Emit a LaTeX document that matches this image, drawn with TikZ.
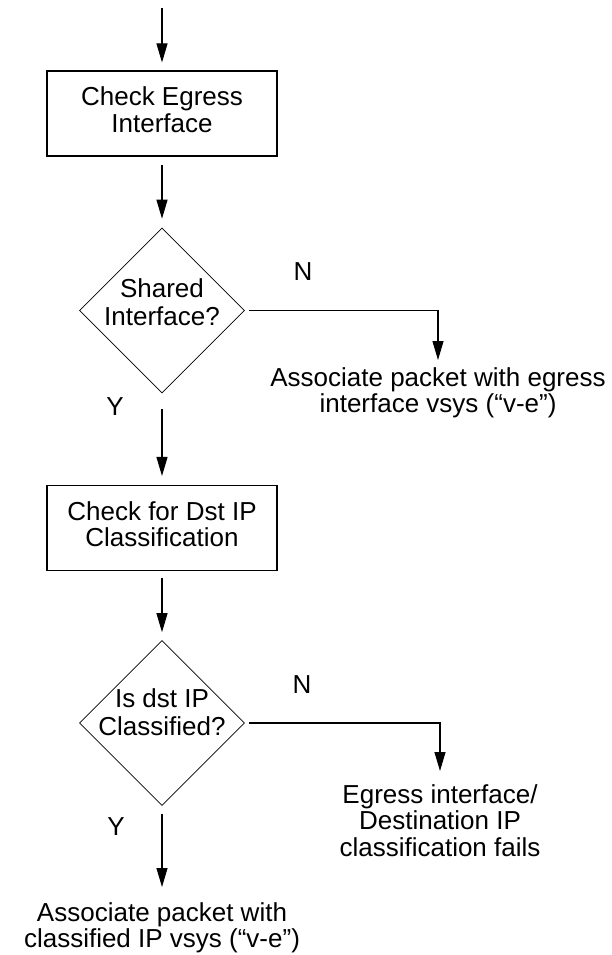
\documentclass[tikz,border=0pt]{standalone}
\usepackage{fontspec}
\setmainfont{Liberation Sans}
\usetikzlibrary{arrows.meta,shapes.geometric}
% two centred lines inside a shape, lifted by #1
\newcommand{\inshape}[2]{\raisebox{#1}{\begin{tabular}{@{}c@{}}#2\end{tabular}}}
% the same, taking no room, so that the diamond keeps its own size
\newcommand{\indiamond}[2]{\makebox[0pt]{\smash{\raisebox{#1}{\renewcommand{\arraystretch}{1.04}\begin{tabular}{@{}c@{}}#2\end{tabular}}}}}
\begin{document}
\begin{tikzpicture}[x=1pt,y=-1pt,
  every node/.style={font=\fontsize{26}{26.5}\selectfont},
  stepbox/.style={draw, line width=1.1pt, minimum width=230pt, minimum height=85pt, inner sep=0pt},
  decision/.style={diamond, draw, line width=0.6pt, minimum width=165pt, minimum height=165pt, inner sep=0pt},
  outcome/.style={anchor=north, inner sep=0pt, align=center},
  flow/.style={line width=1.1pt, -{Triangle[length=19pt,width=11pt]}},
  branch/.style={inner sep=0pt}]
\useasboundingbox (0,0) rectangle (611,955);

% process steps and decisions
\node[stepbox]  (b1) at (162,113.5) {\inshape{1.5pt}{Check Egress\\Interface}};
\node[decision] (d1) at (162,310.5) {\indiamond{-1.5pt}{Shared\\Interface?}};
\node[stepbox]  (b2) at (162,528)   {\inshape{4pt}{Check for Dst IP\\Classification}};
\node[decision] (d2) at (162,723)   {\indiamond{1pt}{Is dst IP\\Classified?}};

% outcomes
\node[outcome] (o1) at (438,367) {Associate packet with egress\\interface vsys (“v-e”)};
\node[outcome] (o2) at (440,784) {Egress interface/\\Destination IP\\classification fails};
\node[outcome] (o3) at (162,902) {Associate packet with\\classified IP vsys (“v-e”)};

% branch labels
\node[branch] (n1) at (303,272) {N};
\node[branch] (y1) at (115,407) {Y};
\node[branch] (n2) at (302,685) {N};
\node[branch] (y2) at (116,827) {Y};

% entry point
\coordinate (start) at (162,8);

% connectors
\draw[flow, shorten >=8pt] (start) -- (b1.north);
\draw[flow, shorten <=8pt, shorten >=9pt] (b1.south) -- (d1.north);
\draw[flow, shorten <=4pt, shorten >=7pt] (d1.east) -| (o1.north);
\draw[flow, shorten <=16pt, shorten >=9pt] (d1.south) -- (b2.north);
\draw[flow, shorten <=7pt, shorten >=8pt] (b2.south) -- (d2.north);
\draw[flow, shorten <=4pt, shorten >=13pt] (d2.east) -| (o2.north);
\draw[flow, shorten <=8pt, shorten >=15pt] (d2.south) -- (o3.north);
\end{tikzpicture}
\end{document}
